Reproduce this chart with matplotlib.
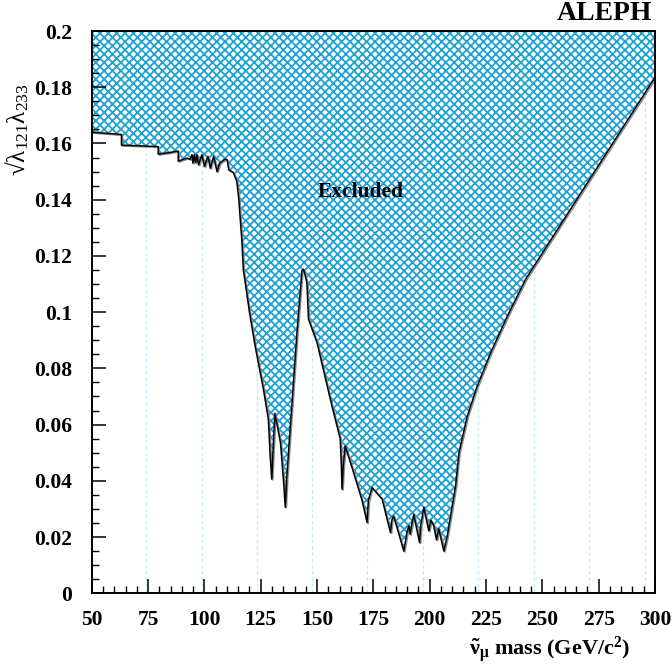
import matplotlib
matplotlib.use("Agg")
import matplotlib.pyplot as plt
from matplotlib.ticker import MultipleLocator
import matplotlib.transforms as mtransforms

plt.rcParams['font.family'] = ['Liberation Serif', 'DejaVu Serif']
plt.rcParams['mathtext.fontset'] = 'stix'
plt.rcParams['mathtext.default'] = 'regular'
plt.rcParams['hatch.color'] = '#1ea2d4'
plt.rcParams['hatch.linewidth'] = 1.3

# Upper limit on sqrt(lambda121*lambda233) versus sneutrino mass
mass = [50.0, 55.0, 63.2, 63.2, 70.0, 79.5, 79.5, 84.0, 88.4, 88.4,
        92.3, 93.7, 94.5, 94.9, 95.5, 96.1, 96.7, 97.4, 98.9, 100.0,
        101.6, 102.6, 104.1, 105.6, 106.8, 109.2, 110.1, 110.8, 112.8, 114.4,
        115.3, 115.8, 116.6, 117.3, 118.1, 120.0, 122.5, 126.2, 128.4, 129.2,
        129.9, 130.5, 131.3, 133.8, 135.2, 135.9, 136.6, 138.8, 141.1, 143.3,
        144.0, 145.5, 146.2, 150.0, 155.9, 158.1, 160.3, 160.8, 161.1, 161.6,
        162.5, 166.2, 170.0, 172.2, 172.8, 174.4, 178.9, 182.6, 183.2, 184.0,
        186.0, 188.5, 190.0, 190.7, 191.3, 192.9, 195.5, 196.0, 197.4, 199.6,
        200.5, 201.8, 203.0, 204.0, 206.3, 207.8, 211.5, 213.0, 216.7, 221.1,
        227.1, 234.5, 242.6, 300.0]
limit = [0.1640, 0.1637, 0.1632, 0.1594, 0.1592, 0.1589, 0.1562, 0.1567, 0.1573, 0.1537,
         0.1548, 0.1544, 0.1560, 0.1530, 0.1560, 0.1532, 0.1560, 0.1524, 0.1560, 0.1518,
         0.1554, 0.1512, 0.1554, 0.1500, 0.1530, 0.1544, 0.1542, 0.1506, 0.1497, 0.1465,
         0.1400, 0.1343, 0.1260, 0.1150, 0.1107, 0.1000, 0.0880, 0.0726, 0.0619, 0.0489,
         0.0406, 0.0510, 0.0640, 0.0534, 0.0391, 0.0306, 0.0418, 0.0667, 0.0928, 0.1147,
         0.1153, 0.1106, 0.0975, 0.0892, 0.0690, 0.0619, 0.0550, 0.0450, 0.0370, 0.0450,
         0.0524, 0.0430, 0.0330, 0.0252, 0.0330, 0.0376, 0.0335, 0.0216, 0.0260, 0.0275,
         0.0220, 0.0150, 0.0220, 0.0240, 0.0210, 0.0281, 0.0180, 0.0240, 0.0306, 0.0222,
         0.0260, 0.0240, 0.0190, 0.0230, 0.0150, 0.0204, 0.0382, 0.0500, 0.0630, 0.0737,
         0.0856, 0.0986, 0.1117, 0.1835]

# LEP centre-of-mass reference lines
ref_masses = [74.0, 98.9, 123.4, 147.9, 172.3, 197.2, 221.5, 246.2, 270.5, 295.4]

x_ticks = [50, 75, 100, 125, 150, 175, 200, 225, 250, 275, 300]
y_ticks = [0, 0.02, 0.04, 0.06, 0.08, 0.1, 0.12, 0.14, 0.16, 0.18, 0.2]
y_tick_labels = ['0', '0.02', '0.04', '0.06', '0.08', '0.1', '0.12', '0.14', '0.16', '0.18', '0.2']

fig = plt.figure(figsize=(6.72, 6.71), dpi=100)
ax = fig.add_axes([0.1365, 0.1158, 0.8382, 0.838])

for xm in ref_masses:
    ax.axvline(xm, color='#c8e8f3', lw=0.9, ls=(0, (3, 2)), zorder=0)

ax.fill_between(mass, limit, 0.2, facecolor='white', edgecolor='#1ea2d4',
                hatch='xxxx', linewidth=0, zorder=1)

shadow = mtransforms.offset_copy(ax.transData, fig=fig, x=1.2, y=-1.0, units='dots')
ax.plot(mass, limit, color='#8a8a8a', lw=1.0, transform=shadow, zorder=2)
ax.plot(mass, limit, color='black', lw=1.1, zorder=3)

ax.text(169.3, 0.1428, 'Excluded', fontsize=15.5, fontweight='bold',
        ha='center', va='center', zorder=4)

ax.set_xlim(50, 300)
ax.set_ylim(0, 0.2)
ax.set_xticks(x_ticks)
ax.set_xticklabels([str(v) for v in x_ticks])
ax.set_yticks(y_ticks)
ax.set_yticklabels(y_tick_labels)
ax.xaxis.set_minor_locator(MultipleLocator(5))
ax.yaxis.set_minor_locator(MultipleLocator(0.005))
ax.tick_params(which='major', direction='in', length=10, width=1.1,
               labelsize=15.5, top=False, right=False)
ax.tick_params(axis='x', which='major', pad=12)
ax.tick_params(axis='y', which='major', pad=14)
ax.tick_params(which='minor', direction='in', length=5, width=1.0,
               top=False, right=False)
for lab in ax.get_xticklabels() + ax.get_yticklabels():
    lab.set_fontweight('bold')
for sp in ax.spines.values():
    sp.set_linewidth(1.4)
    sp.set_zorder(5)

fig.text(0.9702, 1 - 13.5 / 671, 'ALEPH', fontsize=20, fontweight='bold', ha='right', va='center')
fig.text(0.938, 1 - 650 / 671, r'$\tilde{\nu}_{\mu}$ mass (GeV/c$^{2}$)',
         fontsize=16, fontweight='bold', ha='right', va='center')
fig.text(0.026, 1 - 130 / 671, r'√$\lambda_{121}\lambda_{233}$',
         fontsize=18, rotation=90, ha='center', va='center')

fig.savefig('out.png', dpi=100)
